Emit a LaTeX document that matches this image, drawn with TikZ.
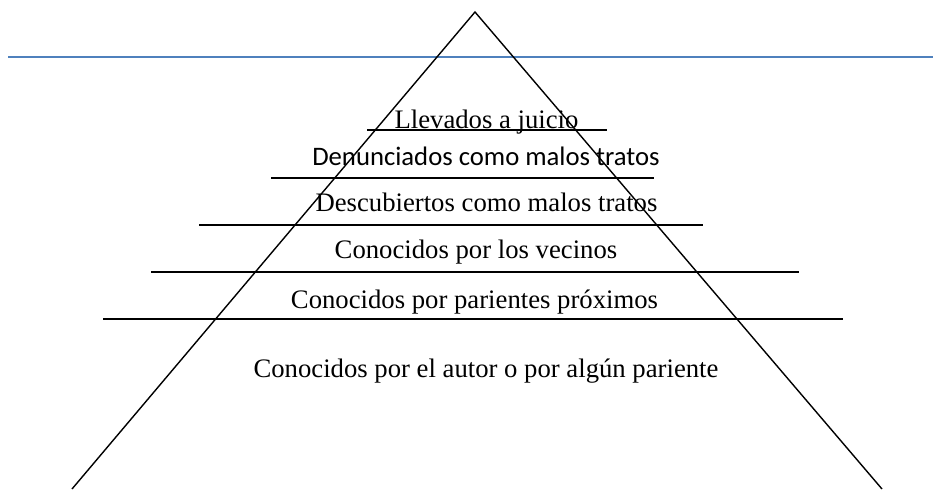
\documentclass[tikz,border=0pt]{standalone}
\usepackage{fontspec}
\setmainfont{Liberation Serif}
\newfontfamily\calibri{Carlito}
\usepackage{xcolor}
\usetikzlibrary{positioning,calc}
\definecolor{rulblue}{HTML}{4F81BD}

\begin{document}
\begin{tikzpicture}[x=0.5pt,y=-0.5pt]
    \tikzset{
        level/.style={anchor=base, inner sep=0pt, font=\fontsize{13.35}{16}\selectfont},
        rule/.style={line width=0.85pt},
        side/.style={line width=0.7pt}
    }
    \useasboundingbox (0,0) rectangle (933,489);

    % Blue rule across the top
    \draw[rulblue, line width=1.2pt] (8,57) -- (933,57);

    % Pyramid
    \coordinate (top) at (475,12);
    \coordinate (bl) at (72,489);
    \coordinate (br) at (882,489);
    \draw[side] (bl) -- (top) -- (br);

    % Level separators
    \draw[rule] (367,130) -- (607,130);
    \draw[rule] (271,178) -- (654,178);
    \draw[rule] (199,225) -- (703,225);
    \draw[rule] (151,272) -- (799,272);
    \draw[rule] (103,319) -- (843,319);

    % Levels
    \node[level] (juicio) at (486.5,128) {Llevados a juicio};
    \node[level, font=\calibri\fontsize{13.35}{16}\selectfont] (denun) at (486,165) {Denunciados como malos tratos};
    \node[level] (descub) at (486.5,211) {Descubiertos como malos tratos};
    \node[level] (vecinos) at (476,258) {Conocidos por los vecinos};
    \node[level] (parient) at (474.5,308) {Conocidos por parientes próximos};
    \node[level] (autor) at (486,377) {Conocidos por el autor o por algún pariente};
\end{tikzpicture}
\end{document}
